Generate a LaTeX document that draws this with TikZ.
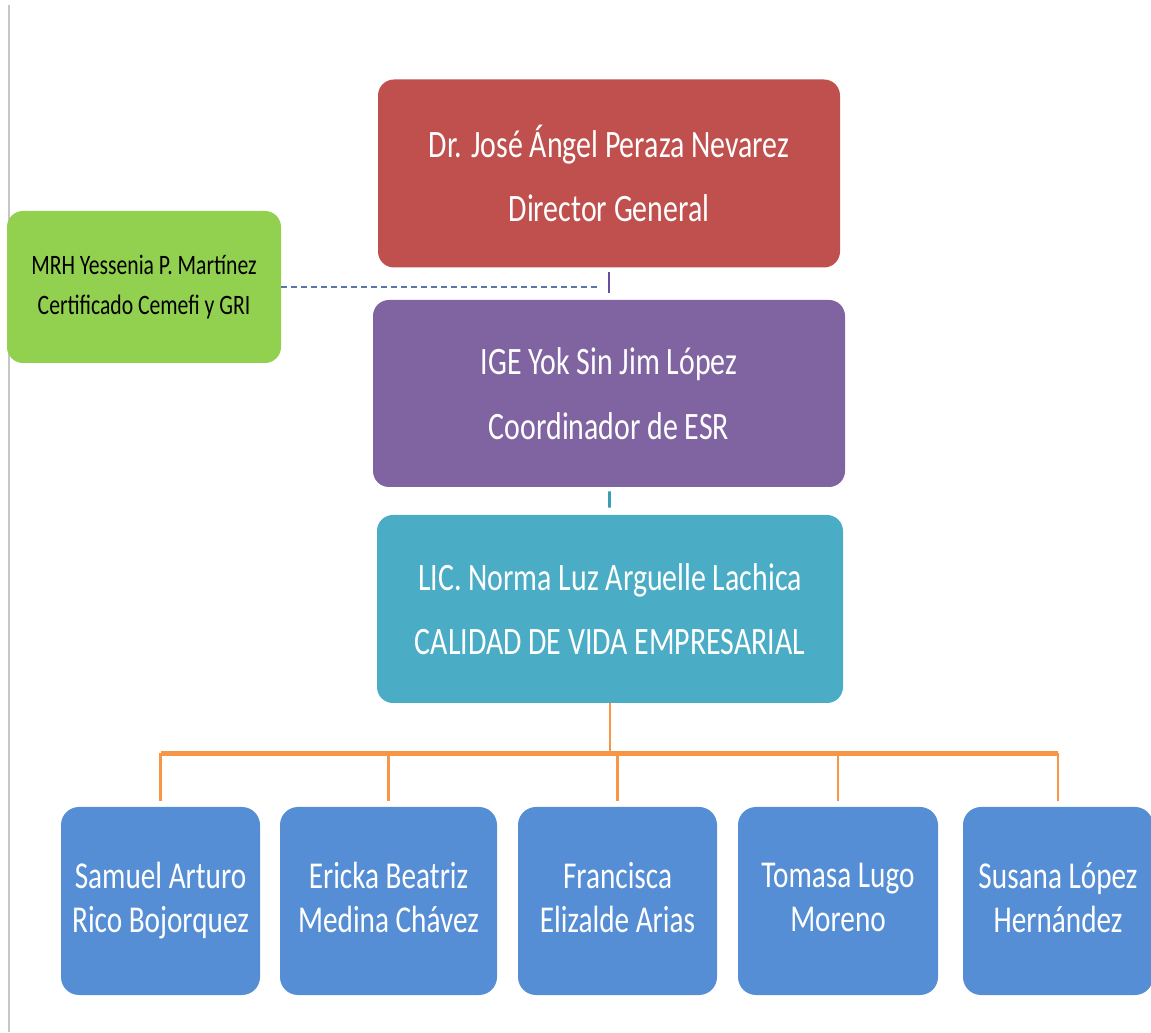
\documentclass[tikz,border=0pt]{standalone}
\usepackage{fontspec}
\setmainfont{Carlito}[FakeStretch=0.77]
\usetikzlibrary{positioning,calc}
\definecolor{dirred}{HTML}{C0504D}
\definecolor{coordpurple}{HTML}{8064A2}
\definecolor{tickpurple}{HTML}{6A4E9C}
\definecolor{vidateal}{HTML}{4BACC6}
\definecolor{tickteal}{HTML}{3E9DB6}
\definecolor{staffblue}{HTML}{558ED5}
\definecolor{certgreen}{HTML}{92D050}
\definecolor{busorange}{HTML}{F79646}
\definecolor{dashblue}{HTML}{5A76A6}
\definecolor{rulegray}{HTML}{C6C6C6}

\begin{document}
\begin{tikzpicture}[
  head/.style={rectangle, rounded corners=0.4cm, minimum height=4.7cm, inner sep=0pt,
    text=white, align=center, font=\fontsize{27.6pt}{46pt}\selectfont},
  staff/.style={rectangle, rounded corners=0.45cm, fill=staffblue, minimum height=4.7cm,
    inner sep=0pt, text=white, align=center, font=\fontsize{27pt}{31.3pt}\selectfont},
  cert/.style={rectangle, rounded corners=0.4cm, fill=certgreen, minimum width=6.85cm,
    minimum height=3.8cm, inner sep=0pt, align=center, font=\fontsize{20pt}{29pt}\selectfont},
  tick/.style={line width=2pt, shorten <=3pt, shorten >=5pt},
  bus/.style={busorange, line width=2pt}
]
  \useasboundingbox (0,0) rectangle (28.775,25.8);
  \draw[rulegray, line width=1.4pt] (0.225,25.675) -- (0.225,0);

  \node[head, fill=dirred, minimum width=11.55cm] (dir) at (15.225,21.4625)
    {Dr. José Ángel Peraza Nevarez\\Director General};
  \node[cert] (cemefi) at (3.6,18.625)
    {MRH Yessenia P. Martínez\\Certificado Cemefi y GRI};
  \node[head, fill=coordpurple, minimum width=11.8cm, minimum height=4.675cm] (esr) at (15.225,15.9625)
    {IGE Yok Sin Jim López\\Coordinador de ESR};
  \node[head, fill=vidateal, minimum width=11.65cm] (vida) at (15.25,10.575)
    {LIC. Norma Luz Arguelle Lachica\\CALIDAD DE VIDA EMPRESARIAL};

  \node[staff, minimum width=4.975cm] (samuel)    at (4.0125,3.275)  {Samuel Arturo\\Rico Bojorquez};
  \node[staff, minimum width=5.425cm] (ericka)    at (9.7125,3.275)  {Ericka Beatriz\\Medina Chávez\vphantom{g}};
  \node[staff, minimum width=4.975cm] (francisca) at (15.4375,3.275) {Francisca\\Elizalde Arias\vphantom{g}};
  \node[staff, minimum width=5.0cm]   (tomasa)    at (20.95,3.275)   {Tomasa Lugo\\Moreno\vphantom{g}};
  \node[staff, minimum width=4.75cm]  (susana)    at (26.45,3.275)   {Susana López\\Hernández\vphantom{g}};

  % links between the heads
  \draw[tick, tickpurple] (dir) -- (esr);
  \draw[tick, tickteal] (esr) -- (vida);
  \draw[dashblue, line width=1pt, dash pattern=on 4.3pt off 2.8pt, shorten >=8pt]
    (cemefi.east) -- (cemefi.east -| dir.south);

  % orange bus down to the staff
  \draw[bus] (vida.south) -- ++(0,-1.25) coordinate (hub);
  \draw[busorange, line width=3.2pt] (samuel.north |- hub) -- (susana.north |- hub);
  \foreach \who in {samuel,ericka,francisca,tomasa,susana}
    \draw[bus, shorten >=4pt] (\who.north |- hub) -- (\who.north);
\end{tikzpicture}
\end{document}
